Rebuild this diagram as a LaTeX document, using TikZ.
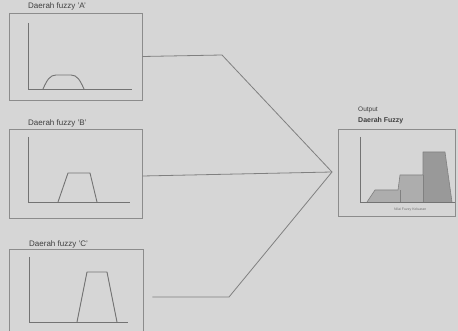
\documentclass[tikz,border=0pt]{standalone}
\usepackage{fontspec}
\setmainfont{Liberation Sans}
\begin{document}
\begin{tikzpicture}[x=1pt,y=-1pt,
  panel/.style={draw=black!45,line width=0.9pt,rectangle,inner sep=0pt},
  axis/.style={draw=black!55,line width=0.9pt},
  curve/.style={draw=black!55,line width=0.9pt,line join=round},
  wire/.style={draw=black!50,line width=0.8pt},
  lbl/.style={font=\fontsize{8}{9}\selectfont,text=black!75,inner sep=0pt},
  tiny/.style={font=\fontsize{3.5}{4}\selectfont,text=black!55,inner sep=0pt}]
\fill[black!16] (0,0) rectangle (458,331);
\useasboundingbox (0,0) rectangle (458,331);
\clip (0,0) rectangle (458,331);
% panels
\node[panel,minimum width=133pt,minimum height=87pt] (A) at (75.5,56.5) {};
\node[panel,minimum width=133pt,minimum height=89pt] (B) at (75.5,173.5) {};
\node[panel,minimum width=134pt,minimum height=96pt] (C) at (76,297) {};
\node[panel,minimum width=117pt,minimum height=87pt] (O) at (396.5,172.5) {};
% labels
\node[lbl,anchor=base west] (la) at (28,9) {Daerah fuzzy 'A'};
\node[lbl,anchor=base west] (lb) at (28,126) {Daerah fuzzy 'B'};
\node[lbl,anchor=base west] (lc) at (29,247) {Daerah fuzzy 'C'};
\node[lbl,anchor=base west,font=\fontsize{6.5}{7}\selectfont] (lo1) at (358,112) {Output};
\node[lbl,anchor=base west,font=\fontsize{7}{8}\selectfont\bfseries] (lo2) at (358,123) {Daerah Fuzzy};
\node[tiny,anchor=base west] (lx) at (394,211) {Nilai Fuzzy Keluaran};
% axes A
\draw[axis] (28,23) -- (28,89) -- (132,89);
\draw[curve] (43,89) .. controls (47,80) and (50,75) .. (56,75) -- (71,75) .. controls (77,75) and (80,80) .. (84,89);
% axes B
\draw[axis] (28,137) -- (28,202) -- (130,202);
\draw[curve] (58,202) -- (68,173) -- (90,173) -- (97,202);
% axes C
\draw[axis] (29,257) -- (29,322) -- (128,322);
\draw[curve] (77,322) -- (87,272) -- (107,272) -- (117,322);
% output chart
\fill[black!32] (367,202) -- (375,190) -- (398,190) -- (400,175) -- (423,175) -- (423,202) -- cycle;
\fill[black!40] (423,202) -- (423,152) -- (445,152) -- (452,202) -- cycle;
\draw[curve,draw=black!50,line width=0.6pt] (367,202) -- (375,190) -- (398,190) -- (400,175) -- (423,175) -- (423,152) -- (445,152) -- (452,202);
\draw[curve,draw=black!50,line width=0.6pt] (400,190) -- (400,202) (423,175) -- (423,202);
\draw[axis] (360,137) -- (360,202) -- (455,202);
% connectors
\coordinate (m) at (332,172);
\coordinate (ka) at (222,55);
\coordinate (kc) at (229,297);
\draw[wire] (A.east) -- (ka) -- (m);
\draw[wire] ([yshift=-2.5pt]B.east) -- (m);
\draw[wire] ([xshift=9pt]C.east) -- (kc) -- (m);
\end{tikzpicture}
\end{document}
